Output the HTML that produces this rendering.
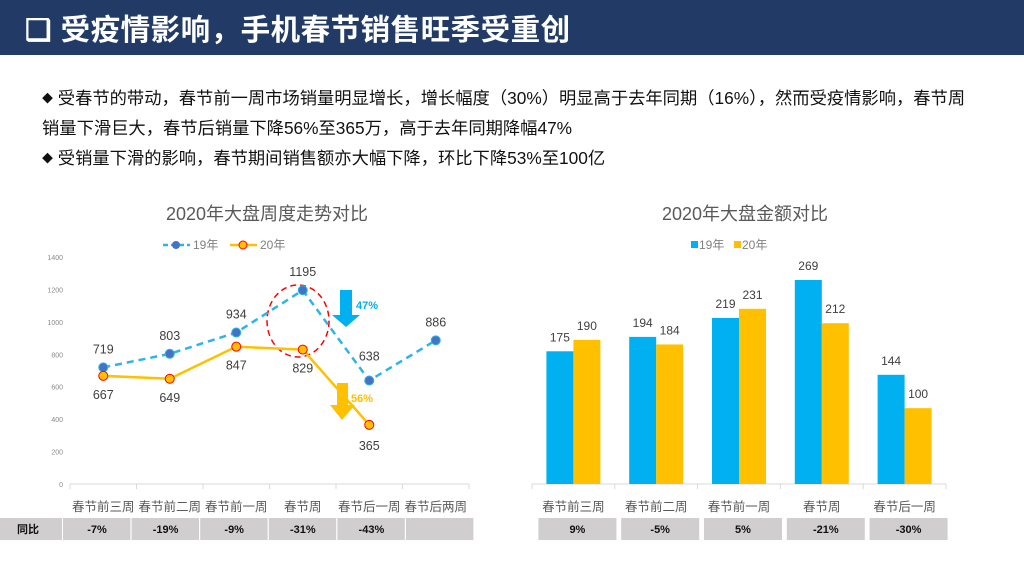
<!DOCTYPE html>
<html><head><meta charset="utf-8">
<style>
body{margin:0;width:1024px;height:576px;overflow:hidden;background:#fff;font-family:"Liberation Sans","Noto Sans CJK SC",sans-serif;position:relative}
#hdr{position:absolute;left:0;top:0;width:1024px;height:55px;background:#213a66}
#ttl{position:absolute;left:25px;top:7px;color:#fff;font-size:29.5px;font-weight:bold;letter-spacing:0.5px;white-space:nowrap}
.p{position:absolute;left:42px;font-size:17.3px;color:#111;white-space:nowrap}
.b{font-size:11px;vertical-align:2px}
svg{position:absolute;left:0;top:0}
</style></head><body>
<div id="hdr"></div>
<div id="ttl">❑ 受疫情影响，手机春节销售旺季受重创</div>
<div class="p" style="top:84px"><span class="b">◆</span> 受春节的带动，春节前一周市场销量明显增长，增长幅度（30%）明显高于去年同期（16%），然而受疫情影响，春节周</div>
<div class="p" style="top:114px">销量下滑巨大，春节后销量下降56%至365万，高于去年同期降幅47%</div>
<div class="p" style="top:144px"><span class="b">◆</span> 受销量下滑的影响，春节期间销售额亦大幅下降，环比下降53%至100亿</div>
<svg id="c" width="1024" height="576"></svg>
<script>
const cats1=['春节前三周','春节前二周','春节前一周','春节周','春节后一周','春节后两周'];
const s19=[719,803,934,1195,638,886];
const s20=[667,649,847,829,365];
const yTicks=[0,200,400,600,800,1000,1200,1400];
const yoy1=['-7%','-19%','-9%','-31%','-43%',''];
const cats2=['春节前三周','春节前二周','春节前一周','春节周','春节后一周'];
const amt19=[175,194,219,269,144];
const amt20=[190,184,231,212,100];
const yoy2=['9%','-5%','5%','-21%','-30%'];

const NS='http://www.w3.org/2000/svg';
const svg=document.getElementById('c');
function el(t,a,txt){const e=document.createElementNS(NS,t);for(const k in a)e.setAttribute(k,a[k]);if(txt!==undefined)e.textContent=txt;svg.appendChild(e);return e;}
const F='"Liberation Sans","Noto Sans CJK SC",sans-serif';
// left chart
const x0=70,x1=469,base=484;
const bw1=(x1-x0)/cats1.length;
const X1=i=>x0+bw1*(i+0.5);
const Y1=v=>base-v*(227/1400);
let t=el('text',{x:267,y:220,'text-anchor':'middle','font-size':18,fill:'#595959','font-family':F},'2020年大盘周度走势对比');

yTicks.forEach(v=>{const e=el('text',{x:63,y:Y1(v)+3,'text-anchor':'end','font-size':7,fill:'#8a8a8a','font-family':F},v);
});
el('line',{x1:x0,y1:base,x2:x1,y2:base,stroke:'#d9d9d9'});
for(let i=0;i<=cats1.length;i++)el('line',{x1:x0+bw1*i,y1:base,x2:x0+bw1*i,y2:base+5,stroke:'#d9d9d9'});
cats1.forEach((c,i)=>{const e=el('text',{x:X1(i),y:511,'text-anchor':'middle','font-size':12.5,fill:'#595959','font-family':F},c);
});
let el1=el('ellipse',{cx:298,cy:321,rx:31,ry:36,fill:'none',stroke:'#ff0000','stroke-width':1.5,'stroke-dasharray':'6,4'});

let p=el('polyline',{points:s19.map((v,i)=>X1(i)+','+Y1(v)).join(' '),fill:'none',stroke:'#2db4e8','stroke-width':2.5,'stroke-dasharray':'7,5'});

p=el('polyline',{points:s20.map((v,i)=>X1(i)+','+Y1(v)).join(' '),fill:'none',stroke:'#ffc000','stroke-width':2.5});

s19.forEach((v,i)=>{const c=el('circle',{cx:X1(i),cy:Y1(v),r:4.5,fill:'#4472c4',stroke:'#2db4e8','stroke-width':1});

const l=el('text',{x:X1(i),y:Y1(v)-(i===4?20:14),'text-anchor':'middle','font-size':12.5,fill:'#404040','font-family':F},v);
});
s20.forEach((v,i)=>{const c=el('circle',{cx:X1(i),cy:Y1(v),r:4.5,fill:'#ffc000',stroke:'#ff0000','stroke-width':1});

const l=el('text',{x:X1(i),y:Y1(v)+(i===4?25:23),'text-anchor':'middle','font-size':12.5,fill:'#404040','font-family':F},v);
});
let a=el('polygon',{points:'340,290 352,290 352,315 360,315 346,327 332,315 340,315',fill:'#00b0f0'});

t=el('text',{x:356,y:309,'font-size':11,'font-weight':'bold',fill:'#00b0f0','font-family':F},'47%');

a=el('polygon',{points:'337,383 348,383 348,405 355,405 342,420 330,405 337,405',fill:'#ffc000'});

t=el('text',{x:351,y:402,'font-size':11,'font-weight':'bold',fill:'#ffc000','font-family':F},'56%');

el('line',{x1:163,y1:245,x2:190,y2:245,stroke:'#2db4e8','stroke-width':2.5,'stroke-dasharray':'5,3'});
el('circle',{cx:176,cy:245,r:4,fill:'#4472c4'});
t=el('text',{x:193,y:249,'font-size':12,fill:'#808080','font-family':F},'19年');
el('line',{x1:230,y1:245,x2:257,y2:245,stroke:'#ffc000','stroke-width':2.5});
el('circle',{cx:243,cy:245,r:4,fill:'#ffc000',stroke:'#ff0000'});
t=el('text',{x:260,y:249,'font-size':12,fill:'#808080','font-family':F},'20年');
let r=el('rect',{x:0,y:518,width:62,height:22,fill:'#d0cece'});
t=el('text',{x:28,y:533,'text-anchor':'middle','font-size':11,'font-weight':'bold',fill:'#111','font-family':F},'同比');

yoy1.forEach((v,i)=>{const rx=63+i*68.6;const c=el('rect',{x:rx,y:518,width:67.4,height:22,fill:'#d0cece'});

const l=el('text',{x:rx+34,y:533,'text-anchor':'middle','font-size':11,'font-weight':'bold',fill:'#111','font-family':F},v);
});
// right chart
const rx0=532,rx1=946;
const bw2=(rx1-rx0)/cats2.length;
const X2=i=>rx0+bw2*(i+0.5);
const Y2=v=>base-v*(204/269);
t=el('text',{x:745,y:220,'text-anchor':'middle','font-size':18,fill:'#595959','font-family':F},'2020年大盘金额对比');

el('line',{x1:rx0,y1:base,x2:rx1,y2:base,stroke:'#d9d9d9'});
for(let i=0;i<=cats2.length;i++)el('line',{x1:rx0+bw2*i,y1:base,x2:rx0+bw2*i,y2:base+5,stroke:'#d9d9d9'});
const BW=27;
amt19.forEach((v,i)=>{const b=el('rect',{x:X2(i)-BW,y:Y2(v),width:BW,height:base-Y2(v),fill:'#00b0f0'});

const l=el('text',{x:X2(i)-BW/2,y:Y2(v)-10,'text-anchor':'middle','font-size':12,fill:'#404040','font-family':F},v);
});
amt20.forEach((v,i)=>{const b=el('rect',{x:X2(i),y:Y2(v),width:BW,height:base-Y2(v),fill:'#ffc000'});

const l=el('text',{x:X2(i)+BW/2,y:Y2(v)-10,'text-anchor':'middle','font-size':12,fill:'#404040','font-family':F},v);
});
cats2.forEach((c,i)=>{const e=el('text',{x:X2(i),y:511,'text-anchor':'middle','font-size':12.5,fill:'#595959','font-family':F},c);
});
el('rect',{x:691,y:241,width:7,height:7,fill:'#00b0f0'});
t=el('text',{x:699,y:249,'font-size':12,fill:'#808080','font-family':F},'19年');
el('rect',{x:734,y:241,width:7,height:7,fill:'#ffc000'});
t=el('text',{x:742,y:249,'font-size':12,fill:'#808080','font-family':F},'20年');
yoy2.forEach((v,i)=>{const cx=X2(i)+4;const c=el('rect',{x:cx-39,y:518,width:78,height:22,fill:'#d0cece'});

const l=el('text',{x:cx,y:533,'text-anchor':'middle','font-size':11,'font-weight':'bold',fill:'#111','font-family':F},v);
});
</script>
</body></html>
